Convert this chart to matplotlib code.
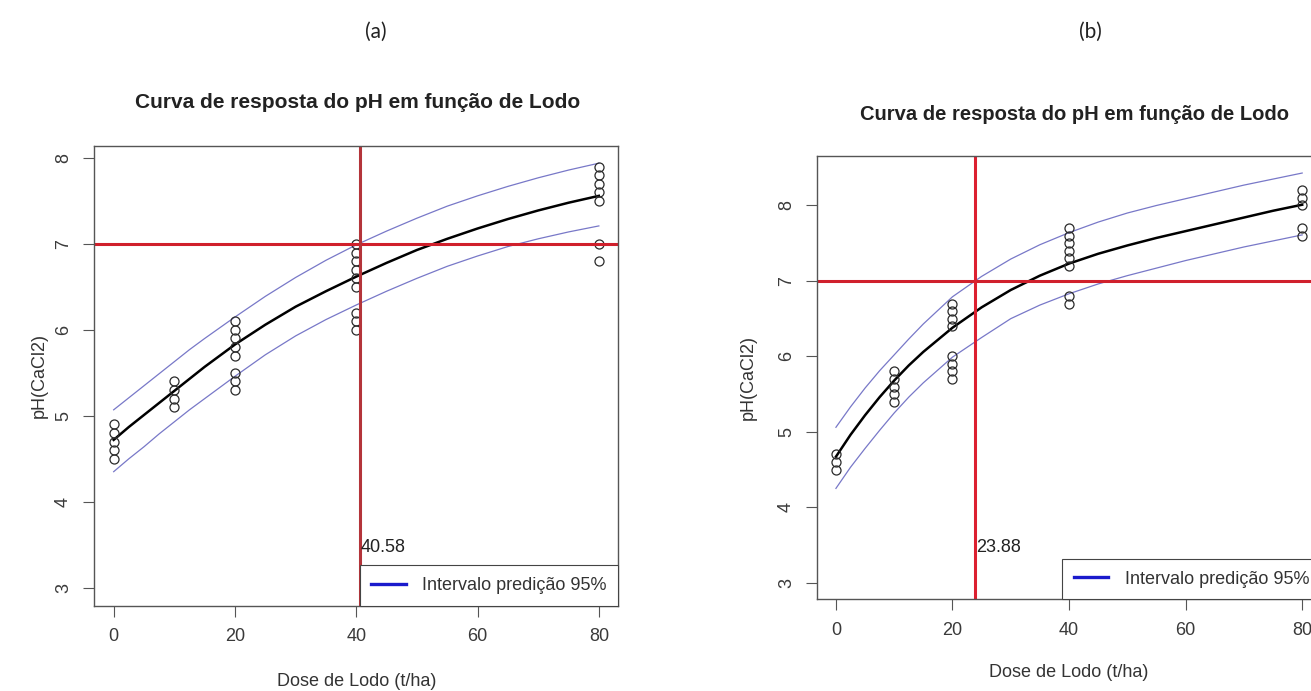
import matplotlib.pyplot as plt
from matplotlib.lines import Line2D

plt.rcParams['font.family'] = ['Liberation Sans', 'DejaVu Sans']

# ===== dados (a) =====
dose_a = [0, 0, 0, 0, 0,
          10, 10, 10, 10,
          20, 20, 20, 20, 20, 20, 20, 20,
          40, 40, 40, 40, 40, 40, 40, 40, 40,
          80, 80, 80, 80, 80, 80, 80]
ph_a = [4.5, 4.6, 4.7, 4.8, 4.9,
        5.1, 5.2, 5.3, 5.4,
        5.3, 5.4, 5.5, 5.7, 5.8, 5.9, 6.0, 6.1,
        6.0, 6.1, 6.2, 6.5, 6.6, 6.7, 6.8, 6.9, 7.0,
        6.8, 7.0, 7.5, 7.6, 7.7, 7.8, 7.9]

# ===== dados (b) =====
dose_b = [0, 0, 0,
          10, 10, 10, 10, 10,
          20, 20, 20, 20, 20, 20, 20, 20,
          40, 40, 40, 40, 40, 40, 40, 40,
          80, 80, 80, 80, 80]
ph_b = [4.5, 4.6, 4.7,
        5.4, 5.5, 5.6, 5.7, 5.8,
        5.7, 5.8, 5.9, 6.0, 6.4, 6.5, 6.6, 6.7,
        6.7, 6.8, 7.2, 7.3, 7.4, 7.5, 7.6, 7.7,
        7.6, 7.7, 8.0, 8.1, 8.2]

# curvas ajustadas e intervalos de predição
dose_curva = [0, 2.5, 5, 7.5, 10, 12.5, 15, 20, 25, 30, 35, 40, 45, 50, 55, 60, 65, 70, 75, 80]

ajuste_a = [4.72, 4.87, 5.01, 5.15, 5.29, 5.43, 5.57, 5.83, 6.06, 6.27, 6.45, 6.62,
            6.78, 6.93, 7.06, 7.18, 7.29, 7.39, 7.48, 7.56]
sup_a = [5.07, 5.21, 5.35, 5.49, 5.63, 5.77, 5.90, 6.15, 6.39, 6.61, 6.81, 6.99,
         7.15, 7.30, 7.44, 7.56, 7.67, 7.77, 7.86, 7.94]
inf_a = [4.35, 4.50, 4.64, 4.79, 4.93, 5.07, 5.20, 5.46, 5.71, 5.93, 6.12, 6.29,
         6.45, 6.60, 6.74, 6.86, 6.97, 7.06, 7.14, 7.21]

ajuste_b = [4.67, 4.96, 5.22, 5.46, 5.68, 5.88, 6.06, 6.38, 6.65, 6.88, 7.07, 7.23,
            7.36, 7.47, 7.57, 7.66, 7.75, 7.84, 7.93, 8.01]
sup_b = [5.06, 5.33, 5.58, 5.81, 6.02, 6.23, 6.43, 6.79, 7.06, 7.29, 7.48, 7.64,
         7.78, 7.90, 8.00, 8.09, 8.18, 8.27, 8.35, 8.43]
inf_b = [4.25, 4.53, 4.78, 5.02, 5.25, 5.46, 5.65, 5.99, 6.25, 6.50, 6.68, 6.83,
         6.96, 7.07, 7.17, 7.27, 7.36, 7.45, 7.53, 7.61]

ph_alvo = 7
corte_a = 40.58
corte_b = 23.88

titulo = "Curva de resposta do pH em função de Lodo"
rotulo_leg = "Intervalo predição 95%"


def painel(ax, dose, ph, ajuste, sup, inf, corte, ylim, cor_vert):
    ax.plot(dose_curva, sup, color="#7878c8", lw=0.9)
    ax.plot(dose_curva, inf, color="#7878c8", lw=0.9)
    ax.plot(dose_curva, ajuste, color="black", lw=1.8)
    ax.plot(dose, ph, "o", mfc="none", mec="#2a2a2a", ms=6.5, mew=0.9)
    ax.axhline(ph_alvo, color="#d0202c", lw=2.2)
    ax.axvline(corte, color=cor_vert, lw=2.2)
    ax.text(corte + 0.2, 3.47, f"{corte:.2f}", ha="left", va="center",
            fontsize=13, color="#222222")

    ax.set_xlim(-3.2, 83.2)
    ax.set_ylim(*ylim)
    ax.set_xticks([0, 20, 40, 60, 80])
    ax.set_yticks([3, 4, 5, 6, 7, 8])
    for s in ax.spines.values():
        s.set_color("#555555")
        s.set_linewidth(1.0)
    ax.tick_params(direction="out", length=8, width=0.8, color="#555555",
                   labelcolor="#3a3a3a", labelsize=13, pad=8)
    ax.tick_params(axis="y", labelrotation=90)
    for lbl in ax.get_yticklabels():
        lbl.set_va("center")

    leg = ax.legend(handles=[Line2D([], [], color="#1a1acc", lw=2.4)],
                    labels=[rotulo_leg], loc="lower right", borderaxespad=0,
                    fancybox=False, framealpha=1, edgecolor="#444444",
                    fontsize=13, handlelength=1.9, handletextpad=0.9,
                    borderpad=0.65)
    leg.get_frame().set_linewidth(0.8)
    for t in leg.get_texts():
        t.set_color("#333333")


fig = plt.figure(figsize=(13.11, 6.91), dpi=100)
ax_a = fig.add_axes([0.0719, 0.1234, 0.3997, 0.6653])
ax_b = fig.add_axes([0.6234, 0.1327, 0.3841, 0.6420])

painel(ax_a, dose_a, ph_a, ajuste_a, sup_a, inf_a, corte_a, (2.79, 8.14), "#b4343a")
painel(ax_b, dose_b, ph_b, ajuste_b, sup_b, inf_b, corte_b, (2.78, 8.66), "#dc2030")

ax_a.set_xlabel("Dose de Lodo (t/ha)", fontsize=13, color="#333333")
ax_a.set_ylabel("pH(CaCl2)", fontsize=13, color="#333333")
ax_a.xaxis.set_label_coords(0.5, -0.146)
ax_a.yaxis.set_label_coords(-0.088, 0.5)

ax_b.set_xlabel("Dose de Lodo (t/ha)", fontsize=13, color="#333333")
ax_b.set_ylabel("pH(CaCl2)", fontsize=13, color="#333333")
ax_b.xaxis.set_label_coords(0.5, -0.146)
ax_b.yaxis.set_label_coords(-0.120, 0.5)

fig.text(358 / 1311, 1 - 103 / 691, titulo, ha="center", va="center",
         fontsize=15, fontweight="bold", color="#222222")
fig.text(1075 / 1311, 1 - 115 / 691, titulo, ha="center", va="center",
         fontsize=14.5, fontweight="bold", color="#222222")

fig.text(376 / 1311, 1 - 32 / 691, "(a)", ha="center", va="center",
         fontsize=15, family="Lato", color="#222222")
fig.text(1090 / 1311, 1 - 32 / 691, "(b)", ha="center", va="center",
         fontsize=15, family="Lato", color="#222222")

fig.savefig("out.png", dpi=100)
